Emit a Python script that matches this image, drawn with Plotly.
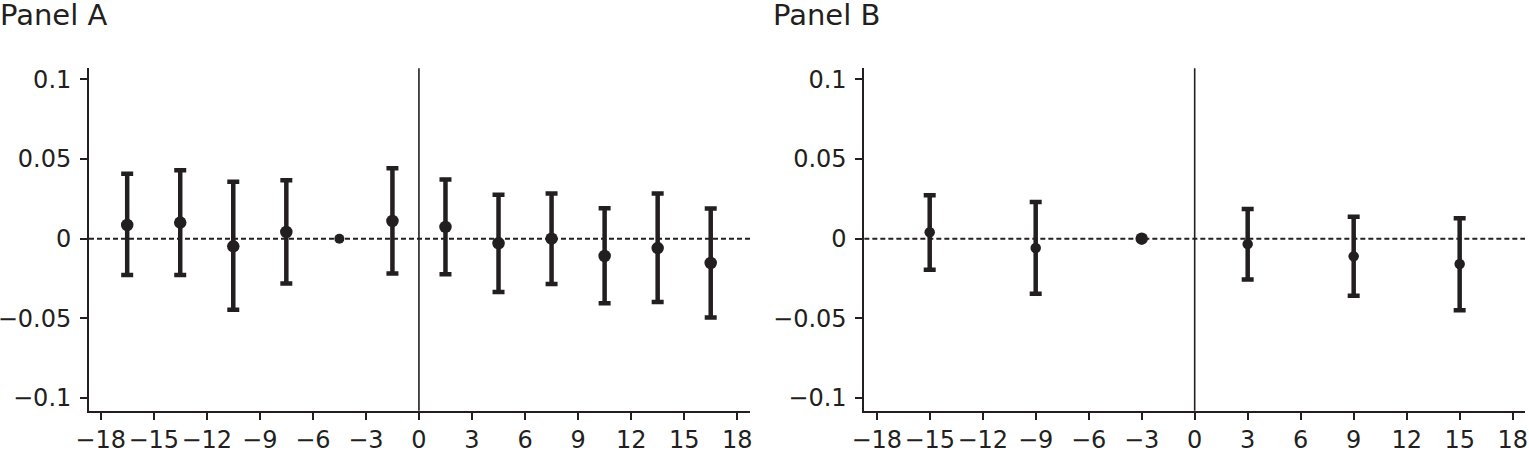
import plotly.graph_objects as go

# Panel A: 12 leads/lags, reference period at -4.5
a_x = [-16.5, -13.5, -10.5, -7.5, -4.5, -1.5, 1.5, 4.5, 7.5, 10.5, 13.5, 16.5]
a_est = [0.0086, 0.0101, -0.0048, 0.0042, 0.0, 0.0111, 0.0074, -0.0029, 0.0, -0.0109, -0.0059, -0.0153]
a_hi = [0.0407, 0.0430, 0.0357, 0.0367, None, 0.0442, 0.0371, 0.0275, 0.0283, 0.0191, 0.0283, 0.0189]
a_lo = [-0.0228, -0.0228, -0.0447, -0.0281, None, -0.0218, -0.0224, -0.0335, -0.0285, -0.0405, -0.0398, -0.0495]

# Panel B: 6 leads/lags, reference period at -3
b_x = [-15, -9, -3, 3, 9, 15]
b_est = [0.0040, -0.0059, 0.0, -0.0034, -0.0111, -0.0159]
b_hi = [0.0272, 0.0231, None, 0.0187, 0.0138, 0.0128]
b_lo = [-0.0195, -0.0346, None, -0.0256, -0.0359, -0.0449]

x_ticks = [-18, -15, -12, -9, -6, -3, 0, 3, 6, 9, 12, 15, 18]
y_ticks = [-0.1, -0.05, 0, 0.05, 0.1]
y_labels = ["\u22120.1", "\u22120.05", "0", "0.05", "0.1"]
titles = ["Panel A", "Panel B"]

INK = "#231f20"
FONT = "DejaVu Sans"


def add_panel(fig, xs, est, hi, lo, xref, yref, dot, ref_dot):
    # split into estimated points (with CI) and the omitted reference period
    pts = [(x, e, h, l) for x, e, h, l in zip(xs, est, hi, lo) if h is not None]
    ref = [(x, e) for x, e, h in zip(xs, est, hi) if h is None]

    fig.add_trace(go.Scatter(
        x=[p[0] for p in pts],
        y=[p[1] for p in pts],
        mode="markers",
        marker=dict(color=INK, size=dot),
        error_y=dict(
            type="data",
            symmetric=False,
            array=[p[2] - p[1] for p in pts],
            arrayminus=[p[1] - p[3] for p in pts],
            color=INK,
            thickness=4.5,
            width=6,
        ),
        xaxis=xref, yaxis=yref,
        showlegend=False,
    ))
    fig.add_trace(go.Scatter(
        x=[r[0] for r in ref],
        y=[r[1] for r in ref],
        mode="markers",
        marker=dict(color=INK, size=ref_dot),
        xaxis=xref, yaxis=yref,
        showlegend=False,
    ))


fig = go.Figure()
add_panel(fig, a_x, a_est, a_hi, a_lo, "x", "y", 12.5, 10)
add_panel(fig, b_x, b_est, b_hi, b_lo, "x2", "y2", 10.5, 12.5)

axis_common = dict(
    showline=True, linecolor=INK, linewidth=1.8,
    ticks="outside", ticklen=7, tickwidth=1.5, tickcolor=INK,
    showgrid=False, zeroline=False,
    tickfont=dict(family=FONT, size=24, color=INK),
    automargin=False,
)

y_dom = [0.0914, 0.849]
fig.update_layout(
    width=1529, height=452,
    margin=dict(l=0, r=0, t=0, b=0),
    plot_bgcolor="white", paper_bgcolor="white",
    xaxis=dict(domain=[0.0582, 0.4905], range=[-18.66, 18.72], anchor="y",
               tickvals=x_ticks, ticklabelstandoff=0, **axis_common),
    yaxis=dict(domain=y_dom, range=[-0.108, 0.107], anchor="x",
               tickvals=y_ticks, ticktext=y_labels, ticklabelstandoff=4, **axis_common),
    xaxis2=dict(domain=[0.5653, 0.9974], range=[-18.7, 18.7], anchor="y2",
                tickvals=x_ticks, ticklabelstandoff=0, **axis_common),
    yaxis2=dict(domain=y_dom, range=[-0.108, 0.107], anchor="x2",
                tickvals=y_ticks, ticktext=y_labels, ticklabelstandoff=4, **axis_common),
)

for xr, yr in [("x", "y"), ("x2", "y2")]:
    # dashed zero line across the panel
    fig.add_shape(type="line", xref=f"{xr} domain", yref=yr, x0=0, x1=1, y0=0, y1=0,
                  line=dict(color=INK, width=2, dash="5px,3px"), layer="below")
    # vertical line at event time 0
    fig.add_shape(type="line", xref=xr, yref=f"{yr} domain", x0=0, x1=0, y0=0, y1=1,
                  line=dict(color=INK, width=1.6), layer="below")

for title, xpos in zip(titles, [0, 773 / 1529]):
    fig.add_annotation(text=title, xref="paper", yref="paper", x=xpos, y=1,
                       xanchor="left", yanchor="top", showarrow=False, yshift=4, xshift=-2,
                       font=dict(family=FONT, size=29, color=INK))

# drop the default page margin so the figure sits at the window's corner
fig.write_html("out.html", config={"displayModeBar": False},
               post_script="document.body.style.margin='0';")
